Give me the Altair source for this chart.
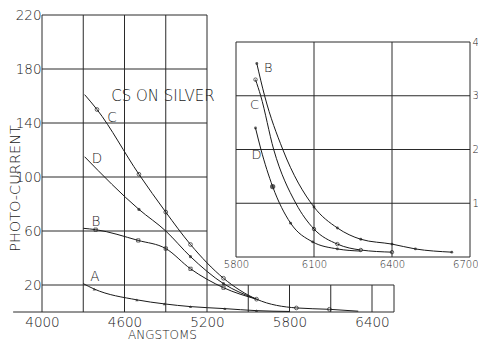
import altair as alt
import pandas as pd

# ---------------- main panel data ----------------
A_x = [4300, 4380, 4690, 4890, 5080, 5330, 5560, 5800]
A_y = [21, 17, 9, 6, 4, 2.5, 1, 0.4]
A_m = [0, 1, 1, 1, 1, 1, 1, 0]

B_x = [4300, 4390, 4700, 4900, 5080, 5320, 5560]
B_y = [62, 61, 53, 47, 32, 18, 9.5]
B_m = [0, 1, 1, 1, 1, 1, 0]

C_x = [4310, 4400, 4705, 4900, 5080, 5320, 5560, 5850, 6090, 6300]
C_y = [161, 150, 102, 74, 50, 25, 9.5, 3, 2, 0.6]
C_m = [0, 1, 1, 1, 1, 1, 1, 1, 1, 0]

D_x = [4310, 4705, 4900, 5080, 5320, 5560]
D_y = [115, 76, 60, 41, 21, 9.5]
D_m = [0, 1, 0, 1, 1, 0]

main_x_ticks = [4000, 4600, 5200, 5800, 6400]
main_y_ticks = [20, 60, 100, 140, 180, 220]

# ---------------- inset panel data ----------------
iB_x = [5880, 5910, 5980, 6100, 6190, 6280, 6400, 6490, 6630]
iB_y = [3.6, 3.0, 2.0, 0.93, 0.54, 0.33, 0.24, 0.15, 0.09]
iB_m = [1, 0, 0, 1, 1, 1, 1, 1, 1]

iC_x = [5875, 5895, 5945, 6030, 6100, 6190, 6280, 6400]
iC_y = [3.3, 3.0, 2.0, 1.0, 0.52, 0.24, 0.13, 0.09]
iC_m = [1, 0, 0, 0, 1, 1, 1, 1]

iD_x = [5875, 5896, 5941, 6010, 6095, 6190, 6280]
iD_y = [2.4, 2.0, 1.31, 0.63, 0.28, 0.15, 0.11]
iD_m = [1, 0, 2, 1, 1, 1, 0]

inset_x_ticks = [5800, 6100, 6400, 6700]
inset_y_ticks = [1, 2, 3, 4]

FONT = "DejaVu Sans"
WEIGHT = 200
INK = "#1a1a1a"

# ---------------- helpers ----------------
def series_df(name, xs, ys, ms):
    return pd.DataFrame({"s": name, "x": xs, "y": ys, "m": ms, "o": range(len(xs))})

main_df = pd.concat([series_df("A", A_x, A_y, A_m), series_df("B", B_x, B_y, B_m),
                     series_df("C", C_x, C_y, C_m), series_df("D", D_x, D_y, D_m)])
inset_df = pd.concat([series_df("B", iB_x, iB_y, iB_m), series_df("C", iC_x, iC_y, iC_m),
                      series_df("D", iD_x, iD_y, iD_m)])

# grid / frame segments of the main panel (upper block to 5200, lower strip to 6560)
main_seg = pd.DataFrame(
    [(v, v, 0, 220) for v in [4000, 4300, 4600, 4900, 5200]]
    + [(v, v, 0, 20) for v in [5500, 5800, 6100, 6400, 6560]]
    + [(4000, 5200, v, v) for v in [60, 100, 140, 180, 220]]
    + [(4000, 6560, 20, 20), (3790, 6560, 0, 0)],
    columns=["x", "x2", "y", "y2"])

inset_seg = pd.DataFrame(
    [(v, v, 0, 4) for v in [5800, 6100, 6400, 6700]]
    + [(5800, 6700, v, v) for v in [0, 1, 2, 3, 4]],
    columns=["x", "x2", "y", "y2"])

main_txt = pd.DataFrame({"t": ["A", "B", "C", "D", "CS ON SILVER"],
                         "x": [4385, 4392, 4508, 4400, 4879],
                         "y": [26, 67, 144, 113, 160],
                         "fs": [13.5, 13.5, 13.5, 13.5, 15]})
inset_txt = pd.DataFrame({"t": ["B", "C", "D"],
                          "x": [5924, 5871, 5879],
                          "y": [3.52, 2.83, 1.9]})

# ---------------- scales & axes ----------------
mx_scale = alt.Scale(domain=[4000, 6560], range=[0, 352], nice=False, zero=False)
my_scale = alt.Scale(domain=[0, 220], range=[297, 0], nice=False, zero=False)
ix_scale = alt.Scale(domain=[5800, 6700], range=[194, 428], nice=False, zero=False)
iy_scale = alt.Scale(domain=[0, 4], range=[242, 27], nice=False, zero=False)

mx_axis = alt.Axis(values=main_x_ticks, format="d", grid=False, domain=False, ticks=False,
                   labelFlush=False, labelFontSize=13.5, labelFont=FONT, labelFontWeight=WEIGHT,
                   labelColor=INK, labelPadding=3, title="ANGSTOMS", titleFont=FONT,
                   titleFontSize=12, titleFontWeight=WEIGHT, titleColor=INK,
                   titleX=120, titleY=22, titleAlign="center", titleBaseline="middle")
my_axis = alt.Axis(values=main_y_ticks, format="d", grid=False, domain=False, ticks=False,
                   labelFontSize=13.5, labelFont=FONT, labelFontWeight=WEIGHT, labelColor=INK,
                   labelPadding=1, title="PHOTO-CURRENT", titleFont=FONT, titleFontSize=14.5,
                   titleFontWeight=WEIGHT, titleColor=INK, titleX=-27, titleY=173,
                   titleAngle=270, titleAlign="center", titleBaseline="middle")
ix_axis = alt.Axis(values=inset_x_ticks, format="d", grid=False, domain=False, ticks=False,
                   orient="bottom", offset=-55, labelFlush=False, labelFontSize=10,
                   labelFont=FONT, labelFontWeight=WEIGHT, labelColor=INK, labelPadding=2,
                   labelAlign={"condition": {"test": "datum.value == 6700", "value": "right"},
                               "value": "center"},
                   labelOffset={"condition": {"test": "datum.value == 6700", "value": 8},
                                "value": 0},
                   title=None)
iy_axis = alt.Axis(values=inset_y_ticks, format="d", grid=False, domain=False, ticks=False,
                   orient="right", labelFontSize=10, labelFont=FONT, labelFontWeight=WEIGHT,
                   labelColor=INK, labelPadding=2, title=None)

def mx(f="x"):
    return alt.X(f"{f}:Q", scale=mx_scale, axis=mx_axis)

def my(f="y"):
    return alt.Y(f"{f}:Q", scale=my_scale, axis=my_axis)

def ix(f="x"):
    return alt.X(f"{f}:Q", scale=ix_scale, axis=ix_axis)

def iy(f="y"):
    return alt.Y(f"{f}:Q", scale=iy_scale, axis=iy_axis)

# ---------------- main panel ----------------
m_grid = alt.Chart(main_seg).mark_rule(color="#2a2a2a", strokeWidth=1).encode(
    x=mx(), x2="x2", y=my(), y2="y2")
m_lines = alt.Chart(main_df).mark_line(color=INK, strokeWidth=1, interpolate="monotone").encode(
    x=mx(), y=my(), detail="s:N", order="o:Q")
m_circ = alt.Chart(main_df).transform_filter("datum.m > 0 && datum.s == 'C'").mark_point(
    shape="circle", filled=False, color=INK, size=14, strokeWidth=1).encode(x=mx(), y=my())
m_sq = alt.Chart(main_df).transform_filter("datum.m > 0 && datum.s == 'B'").mark_point(
    shape="square", filled=False, color=INK, size=10, strokeWidth=1).encode(x=mx(), y=my())
m_dot = alt.Chart(main_df).transform_filter("datum.m > 0 && datum.s == 'D'").mark_point(
    shape="circle", filled=True, color=INK, size=10).encode(x=mx(), y=my())
m_tri = alt.Chart(main_df).transform_filter("datum.m > 0 && datum.s == 'A'").mark_point(
    shape="triangle-up", filled=True, color=INK, size=10).encode(x=mx(), y=my())
m_text = alt.Chart(main_txt).mark_text(font=FONT, fontWeight=WEIGHT, color=INK).encode(
    x=mx(), y=my(), text="t:N",
    size=alt.Size("fs:Q", scale=None, legend=None))

main = alt.layer(m_grid, m_lines, m_circ, m_sq, m_dot, m_tri, m_text)

# ---------------- inset panel ----------------
i_grid = alt.Chart(inset_seg).mark_rule(color="#2a2a2a", strokeWidth=1).encode(
    x=ix(), x2="x2", y=iy(), y2="y2")
i_lines = alt.Chart(inset_df).mark_line(color=INK, strokeWidth=1, interpolate="monotone").encode(
    x=ix(), y=iy(), detail="s:N", order="o:Q")
i_circ = alt.Chart(inset_df).transform_filter("datum.m > 0 && datum.s == 'C'").mark_point(
    shape="circle", filled=False, color=INK, size=12, strokeWidth=1).encode(x=ix(), y=iy())
i_dot = alt.Chart(inset_df).transform_filter("datum.m == 1 && datum.s != 'C'").mark_point(
    shape="circle", filled=True, color=INK, size=8).encode(x=ix(), y=iy())
i_big = alt.Chart(inset_df).transform_filter("datum.m == 2").mark_point(
    shape="circle", filled=True, color=INK, size=28).encode(x=ix(), y=iy())
i_text = alt.Chart(inset_txt).mark_text(font=FONT, fontWeight=WEIGHT, fontSize=13,
                                        color=INK).encode(x=ix(), y=iy(), text="t:N")

inset = alt.layer(i_grid, i_lines, i_circ, i_dot, i_big, i_text)

chart = alt.layer(main, inset).resolve_scale(x="independent", y="independent").properties(
    width=428, height=297,
    autosize=alt.AutoSizeParams(type="none"),
    padding={"left": 34, "top": 7, "right": 8, "bottom": 27},
    background="white",
).configure_view(stroke=None)

chart.save("out.html", embed_options={"renderer": "svg", "actions": False})
